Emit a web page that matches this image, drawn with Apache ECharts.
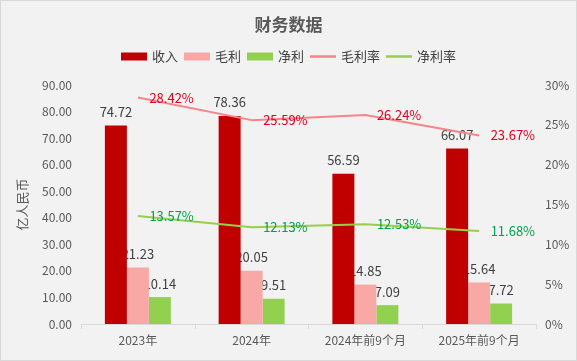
<!DOCTYPE html>
<html><head><meta charset="utf-8">
<script src="https://cdn.jsdelivr.net/npm/echarts@6/dist/echarts.min.js"></script>
<style>
html,body{margin:0;padding:0;background:#f2f2f2;}
#c{width:577px;height:361px;box-sizing:border-box;border:1px solid #d9d9d9;background:#f2f2f2;}
</style></head>
<body><div id="c"></div>
<script>
const categories = ['2023年', '2024年', '2024年前9个月', '2025年前9个月'];
const revenue = [74.72, 78.36, 56.59, 66.07];
const grossProfit = [21.23, 20.05, 14.85, 15.64];
const netProfit = [10.14, 9.51, 7.09, 7.72];
const grossMargin = [28.42, 25.59, 26.24, 23.67];
const netMargin = [13.57, 12.13, 12.53, 11.68];

const FONT = '"Noto Sans CJK SC", sans-serif';
const chart = echarts.init(document.getElementById('c'));
const barLabel = {show: true, position: 'top', distance: 7, color: '#404040', fontSize: 13, fontFamily: FONT,
  formatter: p => p.value.toFixed(2)};
const LINE_ICON = 'path://M0,0 H26 V2.5 H0 Z';
function lineSeries(name, data, lineColor, labelColor) {
  return {name: name, type: 'line', yAxisIndex: 1, data: data, symbol: 'circle', symbolSize: 1,
    showAllSymbol: true, z: 6,
    lineStyle: {color: lineColor, width: 2}, itemStyle: {color: 'rgba(0,0,0,0)', borderWidth: 0},
    label: {show: true, position: 'right', distance: 11, color: labelColor, fontSize: 13, fontFamily: FONT,
      formatter: p => p.value.toFixed(2) + '%'}};
}
chart.setOption({
  backgroundColor: '#f2f2f2',
  textStyle: {fontFamily: FONT},
  title: {text: '财务数据', left: 'center', top: 10,
    textStyle: {fontSize: 17, fontWeight: 'bold', color: '#595959', fontFamily: FONT}},
  legend: {top: 44, left: 'center', itemWidth: 26, itemHeight: 8, itemGap: 6,
    textStyle: {fontSize: 13, color: '#404040', fontFamily: FONT},
    data: [{name: '收入', icon: 'rect'}, {name: '毛利', icon: 'rect'}, {name: '净利', icon: 'rect'},
      {name: '毛利率', icon: LINE_ICON, itemStyle: {color: '#f4858a'}},
      {name: '净利率', icon: LINE_ICON, itemStyle: {color: '#9acd4a'}}]},
  grid: {left: 80, right: 40, top: 84, bottom: 36},
  xAxis: {type: 'category', data: categories,
    axisLine: {lineStyle: {color: '#d9d9d9'}},
    axisTick: {show: true, length: 5, lineStyle: {color: '#d9d9d9'}},
    axisLabel: {color: '#595959', fontSize: 12, margin: 10, fontFamily: FONT}},
  yAxis: [
    {type: 'value', min: 0, max: 90, interval: 10, name: '亿人民币', nameLocation: 'middle', nameGap: 52,
      nameTextStyle: {color: '#595959', fontSize: 13, fontFamily: FONT},
      axisLabel: {color: '#595959', fontSize: 12, margin: 9, formatter: v => v.toFixed(2), fontFamily: FONT},
      splitLine: {show: false}, axisLine: {show: false}, axisTick: {show: false}},
    {type: 'value', min: 0, max: 30, interval: 5, position: 'right',
      axisLabel: {color: '#595959', fontSize: 12, margin: 9, formatter: v => v + '%', fontFamily: FONT},
      splitLine: {show: false}, axisLine: {show: false}, axisTick: {show: false}}
  ],
  series: [
    {name: '收入', type: 'bar', data: revenue, barWidth: 22, barGap: '0%', barCategoryGap: '42%', z: 4,
      itemStyle: {color: '#c00000'}, label: barLabel},
    {name: '毛利', type: 'bar', data: grossProfit, barWidth: 22, barGap: '0%', z: 3,
      itemStyle: {color: '#f8a9a5'}, label: barLabel},
    {name: '净利', type: 'bar', data: netProfit, barWidth: 22, barGap: '0%', z: 2,
      itemStyle: {color: '#92d050'}, label: barLabel},
    lineSeries('毛利率', grossMargin, '#f4858a', '#e0001b'),
    lineSeries('净利率', netMargin, '#9acd4a', '#00a050')
  ]
});
</script></body></html>
